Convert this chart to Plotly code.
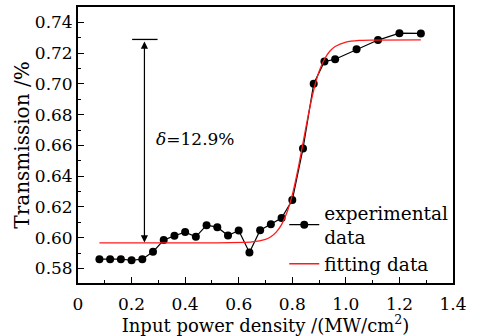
import plotly.graph_objects as go

# experimental data
exp_x = [0.08, 0.12, 0.16, 0.20, 0.24, 0.28, 0.32, 0.36, 0.40, 0.44, 0.48, 0.52,
         0.56, 0.60, 0.64, 0.68, 0.72, 0.76, 0.80, 0.84, 0.88, 0.92, 0.96,
         1.04, 1.12, 1.20, 1.28]
exp_y = [0.586, 0.586, 0.586, 0.5853, 0.586, 0.5908, 0.5984, 0.6012, 0.6036, 0.6005,
         0.6081, 0.6068, 0.6014, 0.6046, 0.5904, 0.6048, 0.6087, 0.6128, 0.6244,
         0.6579, 0.7001, 0.7145, 0.716, 0.7225, 0.7285, 0.733, 0.7328]

# fitting curve
fit_x = [0.08, 0.50, 0.65, 0.70, 0.72, 0.74, 0.76, 0.78, 0.80, 0.82, 0.84, 0.86,
         0.88, 0.90, 0.92, 0.94, 0.96, 1.00, 1.05, 1.10, 1.28]
fit_y = [0.5966, 0.5966, 0.5972, 0.5989, 0.6006, 0.6036, 0.6085, 0.6163, 0.6278,
         0.6434, 0.6617, 0.680, 0.696, 0.708, 0.716, 0.7212, 0.7243, 0.7272,
         0.7283, 0.7285, 0.7286]

x_ticks = [0, 0.2, 0.4, 0.6, 0.8, 1.0, 1.2, 1.4]
x_tick_labels = ["0", "0.2", "0.4", "0.6", "0.8", "1.0", "1.2", "1.4"]
y_ticks = [0.58, 0.60, 0.62, 0.64, 0.66, 0.68, 0.70, 0.72, 0.74]
y_tick_labels = ["0.58", "0.60", "0.62", "0.64", "0.66", "0.68", "0.70", "0.72", "0.74"]

FONT = "DejaVu Serif, Liberation Serif, serif"
FS = 17

fig = go.Figure()
fig.add_trace(go.Scatter(x=exp_x, y=exp_y, mode="lines+markers",
                         name="experimental<br>data",
                         line=dict(color="black", width=1.2),
                         marker=dict(color="black", size=8)))
fig.add_trace(go.Scatter(x=fit_x, y=fit_y, mode="lines", name="fitting data",
                         line=dict(color="#ff1a1a", width=1.3, shape="spline", smoothing=0.6)))

# delta arrow
fig.add_annotation(x=0.248, y=0.5968, ax=0.248, ay=0.7285, xref="x", yref="y",
                   axref="x", ayref="y", showarrow=True, arrowhead=2, startarrowhead=2,
                   arrowside="end+start", arrowsize=1.2, startarrowsize=1.2, arrowwidth=1.2,
                   arrowcolor="black", text="")
fig.add_shape(type="line", x0=0.202, x1=0.297, y0=0.7289, y1=0.7289,
              xref="x", yref="y", line=dict(color="black", width=1.3))
fig.add_annotation(x=0.283, y=0.664, xref="x", yref="y", showarrow=False,
                   xanchor="left", yanchor="middle",
                   text="<i>δ</i>=12.9%", font=dict(family=FONT, size=FS, color="black"))

fig.update_layout(
    width=484, height=336,
    margin=dict(l=78, r=31, t=5, b=53),
    paper_bgcolor="white", plot_bgcolor="white",
    font=dict(family=FONT, size=FS, color="black"),
    showlegend=True,
    legend=dict(x=0.55, y=0.322, xanchor="left", yanchor="top",
                bgcolor="rgba(0,0,0,0)", itemwidth=30, tracegroupgap=0,
                font=dict(family=FONT, size=18.5, color="black")),
)
fig.update_xaxes(range=[0, 1.4], tickvals=x_ticks, ticktext=x_tick_labels,
                 ticks="inside", ticklen=6, tickwidth=1.2, tickcolor="black",
                 ticklabelstandoff=5,
                 tickfont=dict(family=FONT, size=FS, color="black"),
                 minor=dict(ticks="inside", ticklen=3, dtick=0.1, tickcolor="black", tickwidth=1.2),
                 showline=True, linecolor="black", linewidth=1.8, mirror=True,
                 showgrid=False, zeroline=False,
                 title=dict(text="Input power density /(MW/cm<sup>2</sup>)", standoff=0,
                            font=dict(family=FONT, size=18, color="black")))
fig.update_yaxes(range=[0.5705, 0.75], tickvals=y_ticks, ticktext=y_tick_labels,
                 ticks="inside", ticklen=6, tickwidth=1.2, tickcolor="black",
                 tickfont=dict(family=FONT, size=FS, color="black"),
                 minor=dict(ticks="inside", ticklen=3, dtick=0.01, tickcolor="black", tickwidth=1.2),
                 showline=True, linecolor="black", linewidth=1.8, mirror=True,
                 showgrid=False, zeroline=False,
                 title=dict(text="Transmission /%", standoff=0,
                            font=dict(family=FONT, size=20, color="black")))

fig.write_html("out.html")
